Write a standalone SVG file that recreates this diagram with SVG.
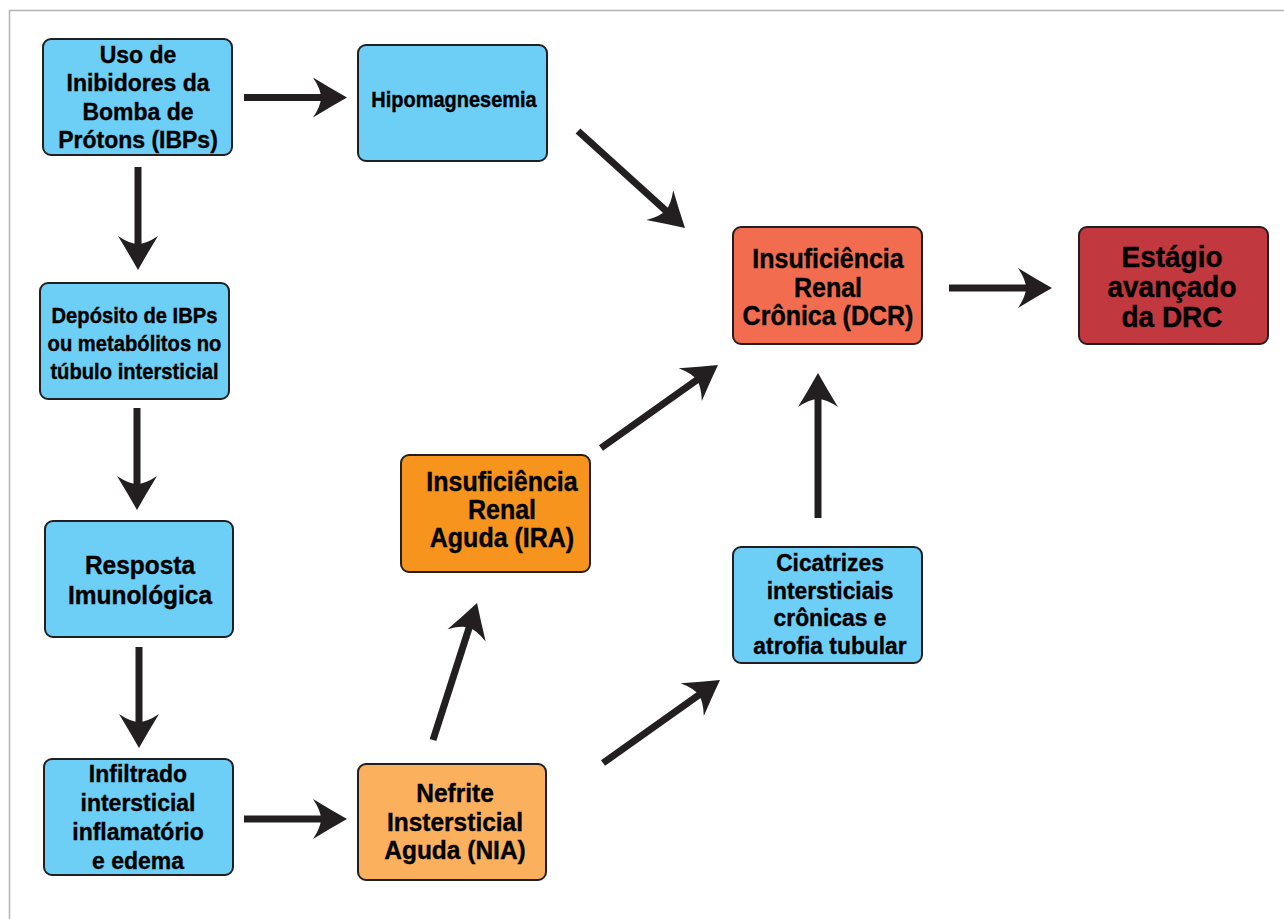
<svg xmlns="http://www.w3.org/2000/svg" width="1284" height="919" viewBox="0 0 1284 919">
<style>
.box{stroke:#231f20;stroke-width:2}
.blue{fill:#6dcff6}
.orange{fill:#f7941d}
.lorange{fill:#fbb05e}
.red{fill:#f26d50}
.dred{fill:#c1393f}
.t{font-family:"Liberation Sans",Arial,sans-serif;font-weight:bold;fill:#000;stroke:#000;stroke-width:0.35;text-anchor:middle}
.arr{stroke:#231f20;stroke-width:7;fill:none;marker-end:url(#ah)}
</style>
<defs>
<marker id="ah" markerUnits="userSpaceOnUse" markerWidth="40" markerHeight="44" viewBox="0 0 40 44" refX="12" refY="22" orient="auto">
<path d="M36,22 Q20,13 2,2 Q10,14 10,22 Q10,30 2,42 Q20,31 36,22 Z" fill="#231f20"/>
</marker>
</defs>
<rect width="1284" height="919" fill="#fff"/>
<path d="M9.5,919 V10.5 H1284" fill="none" stroke="#b4b4b4" stroke-width="1.5"/>

<g id="connectors">
<line class="arr" x1="244" y1="97.5" x2="323" y2="97.5"/>
<line class="arr" x1="138" y1="167" x2="138" y2="246"/>
<line class="arr" x1="137" y1="408" x2="137" y2="486"/>
<line class="arr" x1="139" y1="647" x2="139" y2="724"/>
<line class="arr" x1="244" y1="819" x2="323" y2="819"/>
<line class="arr" x1="433" y1="740" x2="469.7" y2="625.9"/>
<line class="arr" x1="603" y1="763" x2="700.4" y2="693.9"/>
<line class="arr" x1="578" y1="131" x2="667.2" y2="211.9"/>
<line class="arr" x1="601" y1="448" x2="698.4" y2="378.9"/>
<line class="arr" x1="818" y1="518" x2="818" y2="397"/>
<line class="arr" x1="949" y1="288" x2="1028" y2="288"/>
</g>

<g id="n-ibps">
<rect class="box blue" x="43" y="39" width="189" height="116" rx="8"/>
<text class="t" font-size="23" transform="translate(0,105.5) scale(1,1.07)"><tspan x="138" y="-39.72">Uso de</tspan><tspan x="138" y="-13.55">Inibidores da</tspan><tspan x="138" y="13.55">Bomba de</tspan><tspan x="138" y="39.72">Prótons (IBPs)</tspan></text>
</g>

<g id="n-hipomag">
<rect class="box blue" x="358" y="45" width="189" height="116" rx="8"/>
<text class="t" font-size="20" transform="translate(0,107) scale(1,1.06)" x="454" y="0">Hipomagnesemia</text>
</g>

<g id="n-deposito">
<rect class="box blue" x="40" y="283" width="189" height="116" rx="8"/>
<text class="t" font-size="20.2" transform="translate(0,351) scale(1,1.09)"><tspan x="134.5" y="-25.7">Depósito de IBPs</tspan><tspan x="134.5" y="0">ou metabólitos no</tspan><tspan x="134.5" y="25.7">túbulo intersticial</tspan></text>
</g>

<g id="n-resposta">
<rect class="box blue" x="45" y="521" width="188" height="116" rx="8"/>
<text class="t" font-size="24.5" transform="translate(0,589) scale(1,1.08)"><tspan x="140" y="-14.02">Resposta</tspan><tspan x="140" y="14.02">Imunológica</tspan></text>
</g>

<g id="n-infiltrado">
<rect class="box blue" x="44" y="759" width="189" height="116" rx="8"/>
<text class="t" font-size="23" transform="translate(0,825.5) scale(1,1.07)"><tspan x="138" y="-40.65">Infiltrado</tspan><tspan x="138" y="-13.55">intersticial</tspan><tspan x="138" y="13.55">inflamatório</tspan><tspan x="138" y="40.65">e edema</tspan></text>
</g>

<g id="n-nefrite">
<rect class="box lorange" x="358" y="764" width="188" height="116" rx="8"/>
<text class="t" font-size="24.5" transform="translate(0,831) scale(1,1.07)"><tspan x="455" y="-27.1">Nefrite</tspan><tspan x="455" y="0">Instersticial</tspan><tspan x="455" y="26.17">Aguda (NIA)</tspan></text>
</g>

<g id="n-ira">
<rect class="box orange" x="401" y="455" width="189" height="117" rx="8"/>
<text class="t" font-size="25" transform="translate(0,519) scale(1,1.07)"><tspan x="502" y="-26.17">Insuficiência</tspan><tspan x="502" y="0">Renal</tspan><tspan x="502" y="26.17">Aguda (IRA)</tspan></text>
</g>

<g id="n-cicatrizes">
<rect class="box blue" x="733" y="547" width="189" height="116" rx="8"/>
<text class="t" font-size="22.8" transform="translate(0,612.5) scale(1,1.07)"><tspan x="830" y="-38.79">Cicatrizes</tspan><tspan x="830" y="-12.62">intersticiais</tspan><tspan x="830" y="12.62">crônicas e</tspan><tspan x="830" y="38.79">atrofia tubular</tspan></text>
</g>

<g id="n-dcr">
<rect class="box red" x="733" y="227" width="189" height="117" rx="8"/>
<text class="t" font-size="25" transform="translate(0,297) scale(1,1.07)"><tspan x="828" y="-27.1">Insuficiência</tspan><tspan x="828" y="0">Renal</tspan><tspan x="828" y="26.17">Crônica (DCR)</tspan></text>
</g>

<g id="n-estagio">
<rect class="box dred" x="1079" y="227" width="189" height="117" rx="8"/>
<text class="t" font-size="28" transform="translate(0,297) scale(1,1.05)"><tspan x="1172" y="-28.57">Estágio</tspan><tspan x="1172" y="0">avançado</tspan><tspan x="1172" y="28.57">da DRC</tspan></text>
</g>
</svg>
